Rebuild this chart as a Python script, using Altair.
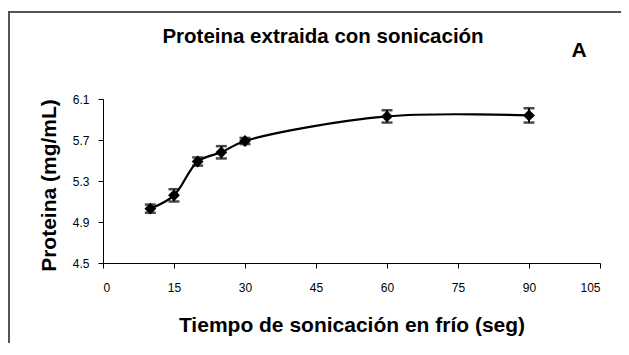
import altair as alt
import pandas as pd

tiempo = [10, 15, 20, 25, 30, 60, 90]
proteina = [5.03, 5.16, 5.49, 5.58, 5.69, 5.93, 5.94]
error = [0.04, 0.06, 0.04, 0.06, 0.03, 0.06, 0.07]
x_ticks = [0, 15, 30, 45, 60, 75, 90, 105]
y_ticks = [4.5, 4.9, 5.3, 5.7, 6.1]

df = pd.DataFrame({"t": tiempo, "p": proteina, "e": error})
df["lo"] = df["p"] - df["e"]
df["hi"] = df["p"] + df["e"]

FONT = "Liberation Sans"

x_scale = alt.Scale(domain=[0, 105], nice=False, zero=False)
y_scale = alt.Scale(domain=[4.5, 6.1], nice=False, zero=False)

x_axis = alt.Axis(
    values=x_ticks, title="Tiempo de sonicación en frío (seg)", grid=False,
    domainColor="black", domainWidth=1, tickColor="black", tickSize=5,
    labelFont=FONT, labelFontSize=12, labelColor="black", labelPadding=14,
    titleFont=FONT, titleFontSize=21, titleFontWeight="bold", titleColor="black",
    titleBaseline="alphabetic", titleY=68,
)
y_axis = alt.Axis(
    values=y_ticks, format=".1f", title="Proteina (mg/mL)", grid=False,
    domainColor="black", domainWidth=1, tickColor="black", tickSize=5,
    labelFont=FONT, labelFontSize=12, labelColor="black", labelPadding=9,
    titleFont=FONT, titleFontSize=21, titleFontWeight="bold", titleColor="black",
    titleBaseline="alphabetic", titleX=-48, titleY=86, titleAngle=270,
)

base = alt.Chart(df)

line = base.mark_line(color="black", strokeWidth=2.2, interpolate="catmull-rom").encode(
    x=alt.X("t:Q", scale=x_scale, axis=x_axis),
    y=alt.Y("p:Q", scale=y_scale, axis=y_axis),
)
rules = base.mark_rule(color="black", strokeWidth=2).encode(
    x="t:Q", y="lo:Q", y2="hi:Q"
)
caps_lo = base.mark_tick(color="black", thickness=2.5, size=11, orient="horizontal").encode(
    x="t:Q", y="lo:Q"
)
caps_hi = base.mark_tick(color="black", thickness=2.5, size=11, orient="horizontal").encode(
    x="t:Q", y="hi:Q"
)
points = base.mark_point(shape="diamond", filled=True, color="black", size=140, opacity=1).encode(
    x="t:Q", y="p:Q"
)

one = pd.DataFrame({"k": [0]})
frame = alt.Chart(one).mark_rect(
    fill="transparent", stroke="#555555", strokeWidth=2,
    x=-94, x2=519, y=-87, y2=300,
).encode(opacity=alt.value(1))
title_txt = alt.Chart(one).mark_text(
    text="Proteina extraida con sonicación", font=FONT, fontSize=20.5, fontWeight="bold",
    color="black", align="center", baseline="alphabetic"
).encode(x=alt.value(220), y=alt.value(-56))
label_a = alt.Chart(one).mark_text(
    text="A", font=FONT, fontSize=21, fontWeight="bold", color="black",
    align="center", baseline="alphabetic"
).encode(x=alt.value(476), y=alt.value(-42))

chart = alt.layer(
    frame, line, rules, caps_lo, caps_hi, points, title_txt, label_a
).properties(
    width=497, height=164,
    background="white",
    autosize=alt.AutoSizeParams(type="none"),
    padding={"left": 95, "top": 91, "right": 21, "bottom": 80},
).configure_view(strokeWidth=0, stroke=None)

chart.save("out.html", embed_options={"renderer": "svg", "actions": False})
